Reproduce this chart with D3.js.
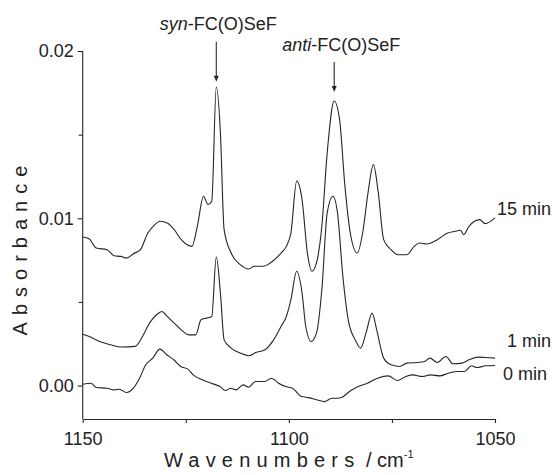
<!DOCTYPE html>
<html>
<head>
<meta charset="utf-8">
<script src="https://cdn.jsdelivr.net/npm/d3@7"></script>
<style>
  body { margin: 0; background: #fff; }
  text { font-family: "Liberation Sans", Arial, sans-serif; fill: #222; }
</style>
</head>
<body>
<script>
// spectra (wavenumber / cm-1, absorbance)
var wn15 = [1150.0, 1148.4, 1146.7, 1144.1, 1142.4, 1140.7, 1139.4, 1137.7, 1136.0, 1134.2, 1132.9, 1131.2, 1129.5, 1127.8, 1126.1, 1123.5, 1122.2, 1120.7, 1119.6, 1118.7, 1117.6, 1116.6, 1115.7, 1114.0, 1111.8, 1109.7, 1108.4, 1106.2, 1104.5, 1101.9, 1100.6, 1099.5, 1098.1, 1096.8, 1095.5, 1094.4, 1093.3, 1092.0, 1090.7, 1089.0, 1087.7, 1086.4, 1085.1, 1083.4, 1082.1, 1080.8, 1079.5, 1078.3, 1077.0, 1075.2, 1073.5, 1071.4, 1069.6, 1068.3, 1066.6, 1064.0, 1061.5, 1059.7, 1058.4, 1057.6, 1056.3, 1053.7, 1052.4, 1050.0];
var abs15 = [0.00888, 0.00876, 0.00822, 0.00812, 0.00776, 0.00772, 0.00762, 0.00788, 0.00812, 0.00912, 0.00952, 0.00982, 0.00972, 0.00932, 0.00872, 0.00832, 0.00952, 0.01132, 0.01082, 0.01102, 0.01786, 0.01511, 0.00932, 0.00792, 0.00723, 0.00697, 0.00713, 0.00713, 0.00733, 0.00792, 0.00832, 0.00912, 0.01222, 0.01112, 0.00792, 0.00683, 0.00733, 0.00952, 0.01391, 0.01701, 0.01591, 0.01192, 0.00912, 0.00792, 0.00912, 0.01152, 0.01321, 0.01152, 0.00872, 0.00812, 0.00782, 0.00782, 0.00832, 0.00852, 0.00846, 0.00872, 0.00912, 0.00922, 0.00928, 0.00902, 0.00952, 0.00992, 0.00968, 0.01002];

var wn1 = [1150.0, 1148.4, 1145.9, 1143.3, 1140.7, 1137.3, 1135.5, 1133.8, 1132.1, 1130.8, 1129.5, 1127.8, 1126.1, 1124.3, 1122.6, 1121.3, 1120.0, 1118.7, 1117.6, 1116.6, 1115.7, 1114.0, 1111.8, 1109.7, 1108.0, 1105.8, 1103.7, 1101.9, 1100.6, 1099.5, 1098.1, 1096.8, 1095.9, 1094.6, 1093.3, 1092.0, 1090.7, 1089.3, 1088.2, 1086.9, 1085.6, 1083.9, 1082.6, 1081.3, 1079.8, 1078.7, 1077.0, 1075.2, 1073.1, 1071.4, 1068.8, 1067.1, 1065.8, 1064.0, 1061.9, 1060.2, 1058.0, 1056.3, 1054.1, 1052.4, 1050.0];
var abs1 = [0.00307, 0.00293, 0.00263, 0.00244, 0.00230, 0.00234, 0.00293, 0.00373, 0.00423, 0.00443, 0.00413, 0.00373, 0.00333, 0.00303, 0.00303, 0.00393, 0.00403, 0.00413, 0.00770, 0.00553, 0.00273, 0.00224, 0.00194, 0.00178, 0.00198, 0.00214, 0.00273, 0.00353, 0.00413, 0.00513, 0.00683, 0.00553, 0.00353, 0.00263, 0.00313, 0.00573, 0.01032, 0.01132, 0.01032, 0.00653, 0.00393, 0.00273, 0.00224, 0.00313, 0.00433, 0.00333, 0.00164, 0.00124, 0.00114, 0.00134, 0.00138, 0.00144, 0.00164, 0.00138, 0.00174, 0.00130, 0.00134, 0.00154, 0.00170, 0.00168, 0.00164];

var wn0 = [1150.0, 1148.0, 1146.7, 1144.1, 1142.4, 1141.1, 1139.4, 1137.7, 1136.4, 1134.7, 1133.0, 1131.3, 1129.6, 1127.9, 1126.2, 1124.5, 1123.2, 1121.0, 1118.4, 1116.7, 1115.4, 1114.1, 1112.8, 1111.1, 1109.8, 1108.1, 1105.9, 1104.2, 1102.5, 1100.8, 1099.1, 1096.9, 1095.2, 1093.1, 1091.4, 1089.6, 1088.3, 1087.1, 1085.3, 1083.2, 1081.0, 1078.5, 1075.9, 1073.7, 1071.6, 1069.9, 1067.7, 1065.6, 1063.4, 1061.3, 1059.1, 1057.4, 1055.7, 1054.4, 1052.2, 1050.0];
var abs0 = [0.00008, 0.00014, -0.00012, -0.00016, -0.00026, -0.00022, -0.00042, -0.00016, 0.00034, 0.00124, 0.00164, 0.00218, 0.00184, 0.00154, 0.00114, 0.00098, 0.00064, 0.00034, 0.00010, -0.00006, -0.00030, -0.00016, -0.00026, 0.00004, -0.00010, 0.00024, 0.00024, 0.00044, 0.00014, -0.00006, -0.00016, -0.00066, -0.00072, -0.00086, -0.00096, -0.00076, -0.00076, -0.00070, -0.00036, -0.00006, 0.00014, 0.00044, 0.00058, 0.00030, 0.00054, 0.00064, 0.00054, 0.00064, 0.00058, 0.00074, 0.00084, 0.00084, 0.00118, 0.00108, 0.00118, 0.00120];

var seriesNames = ["15 min", "1 min", "0 min"];
var xTicks = [1150, 1100, 1050];
var xMinor = [1125, 1075];
var yTicks = [0.00, 0.01, 0.02];
var yMinor = [0.005, 0.015];
var bandNames = ["syn", "anti"];
var bandWn = [1117.6, 1089.0];

const w = 557, h = 475;
const svg = d3.select("body").append("svg")
    .attr("width", w)
    .attr("height", h);

const x = d3.scaleLinear().domain([1150, 1050]).range([82.7, 495]);
const y = d3.scaleLinear().domain([-0.002, 0.02]).range([419, 51]);

const ink = "#262626";

// axes
svg.append("g")
    .attr("transform", "translate(0,419)")
    .call(d3.axisBottom(x).tickValues(xTicks).tickFormat(d3.format("d"))
        .tickSize(4).tickSizeOuter(0).tickPadding(9));
svg.append("g")
    .attr("transform", "translate(0,419)")
    .call(d3.axisBottom(x).tickValues(xMinor).tickFormat("").tickSize(4).tickSizeOuter(0))
    .select(".domain").remove();

const yAxis = svg.append("g")
    .attr("transform", "translate(82.7,0)")
    .call(d3.axisLeft(y).tickValues(yTicks).tickFormat(d3.format(".2f"))
        .tickSize(5).tickSizeOuter(0).tickPadding(4));
svg.append("g")
    .attr("transform", "translate(82.7,0)")
    .call(d3.axisLeft(y).tickValues(yMinor).tickFormat("").tickSize(4).tickSizeOuter(0))
    .select(".domain").remove();

// y axis line only up to 0.02, x axis line up to 1050
yAxis.select(".domain").attr("d", "M0," + y(0.02) + "V" + y(-0.002));
svg.selectAll(".domain, .tick line").attr("stroke", ink).attr("stroke-width", 1.1);
svg.selectAll(".tick text")
    .attr("font-size", "18px")
    .attr("font-family", "'Liberation Sans', Arial, sans-serif")
    .attr("fill", "#222");

// axis titles
svg.append("text")
    .attr("transform", "translate(27,247) rotate(-90)")
    .attr("text-anchor", "middle")
    .attr("font-size", "20px")
    .attr("letter-spacing", "7px")
    .text("Absorbance");

const xt = svg.append("text")
    .attr("x", 164)
    .attr("y", 467)
    .attr("font-size", "20px")
    .style("white-space", "pre");
xt.append("tspan").attr("letter-spacing", "6.2px").text("Wavenumbers");
xt.append("tspan").text(" / cm");
xt.append("tspan").attr("font-size", "11px").attr("dy", "-9").text("-1");

// spectra
const line = d3.line()
    .x(d => x(d[0]))
    .y(d => y(d[1]))
    .curve(d3.curveMonotoneX);

const spectra = [
    d3.zip(wn15, abs15),
    d3.zip(wn1, abs1),
    d3.zip(wn0, abs0)
];

svg.selectAll("path.spec")
    .data(spectra)
    .enter()
    .append("path")
    .attr("class", "spec")
    .attr("d", line)
    .attr("fill", "none")
    .attr("stroke", ink)
    .attr("stroke-width", 1.1)
    .attr("stroke-linejoin", "round");

// series labels, next to the right end of each trace
const labelDx = [2, 12, 8];
const labelDy = [-3, -11, 15];
svg.selectAll("text.series")
    .data(spectra)
    .enter()
    .append("text")
    .attr("class", "series")
    .attr("x", (d, i) => x(1050) + labelDx[i])
    .attr("y", (d, i) => y(d[d.length - 1][1]) + labelDy[i])
    .attr("font-size", "18px")
    .text((d, i) => seriesNames[i]);

// band arrows for the two rotamers
const arrowGap = [5, 9];
const arrowLen = [40, 30];
const textDx = [2, 7];
const textUp = [12, 11];
bandWn.forEach(function (b, i) {
    const peak = d3.max(spectra[0].filter(d => Math.abs(d[0] - b) < 1), d => d[1]);
    const px = x(b);
    const tip = y(peak) - arrowGap[i];
    const top = tip - arrowLen[i];
    svg.append("line")
        .attr("x1", px).attr("x2", px)
        .attr("y1", top).attr("y2", tip - 4)
        .attr("stroke", ink).attr("stroke-width", 1.1);
    svg.append("path")
        .attr("d", "M" + (px - 2.5) + "," + (tip - 6) + "L" + (px + 2.5) + "," + (tip - 6) + "L" + px + "," + tip + "Z")
        .attr("fill", ink);
    const t = svg.append("text")
        .attr("x", px + textDx[i])
        .attr("y", top - textUp[i])
        .attr("text-anchor", "middle")
        .attr("font-size", "18px");
    t.append("tspan").attr("font-style", "italic").text(bandNames[i]);
    t.append("tspan").text("-FC(O)SeF");
});
</script>
</body>
</html>
